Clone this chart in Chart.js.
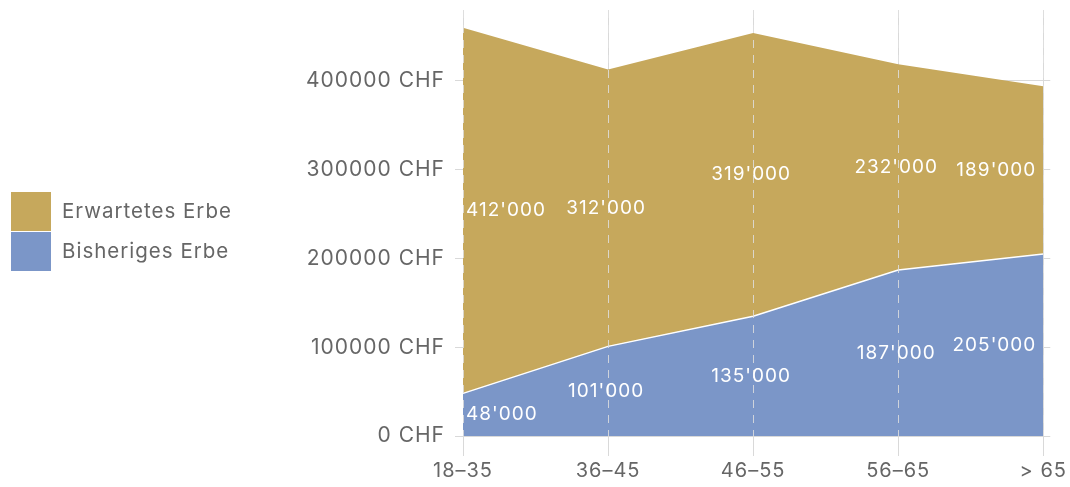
<!DOCTYPE html>
<html>
<head>
<meta charset="utf-8">
<script src="https://cdn.jsdelivr.net/npm/chart.js@4"></script>
<style>
  html, body { margin: 0; padding: 0; background: #fff; }
  #wrap { width: 1070px; height: 487px; }
</style>
</head>
<body>
<div id="wrap"><canvas id="erbeChart"></canvas></div>
<script>
const ageGroups = ["18–35", "36–45", "46–55", "56–65", "> 65"];
const bisherigesErbe = [48000, 101000, 135000, 187000, 205000];
const erwartetesErbe = [412000, 312000, 319000, 232000, 189000];
const yTicks = [0, 100000, 200000, 300000, 400000];

const FONT = "Inter, sans-serif";
const GRID = "#d9d9d9";
const TEXT = "#666666";
const SPACING = "1px";

// thousands with apostrophe, e.g. 48'000
function fmt(v) {
  return String(v).replace(/\B(?=(\d{3})+(?!\d))/g, "'");
}

// the reference text is slightly tracked out
const spacingPlugin = {
  id: "spacing",
  beforeUpdate(chart) { chart.ctx.letterSpacing = SPACING; },
  beforeLayout(chart) { chart.ctx.letterSpacing = SPACING; },
  beforeDraw(chart) { chart.ctx.letterSpacing = SPACING; }
};

// dashed guides over the filled areas + value labels
const overlayPlugin = {
  id: "overlay",
  afterDatasetsDraw(chart) {
    const { ctx, chartArea, scales } = chart;
    ctx.save();
    ctx.strokeStyle = "rgba(222,222,222,0.85)";
    ctx.lineWidth = 1;
    ctx.setLineDash([8, 7]);
    ageGroups.forEach((_, i) => {
      const x = Math.round(scales.x.getPixelForValue(i)) + 0.5;
      ctx.beginPath();
      ctx.moveTo(x, chartArea.top);
      ctx.lineTo(x, chartArea.bottom);
      ctx.stroke();
    });
    ctx.setLineDash([]);

    ctx.fillStyle = "#ffffff";
    ctx.font = "19px " + FONT;
    ctx.textBaseline = "middle";
    const last = ageGroups.length - 1;
    ageGroups.forEach((_, i) => {
      const x = scales.x.getPixelForValue(i);
      const b = bisherigesErbe[i];
      const e = erwartetesErbe[i];
      const spots = [
        [fmt(b), scales.y.getPixelForValue(b / 2)],
        [fmt(e), scales.y.getPixelForValue(b + e / 2)]
      ];
      spots.forEach(([txt, y]) => {
        let tx = x;
        if (i === 0) { ctx.textAlign = "left"; tx = x + 3; }
        else if (i === last) { ctx.textAlign = "right"; tx = x - 7; }
        else { ctx.textAlign = "center"; tx = x - 2; }
        ctx.fillText(txt, tx, y);
      });
    });
    ctx.restore();
  }
};

// legend on the left, top entry = upper band
const legendPlugin = {
  id: "sideLegend",
  afterDraw(chart) {
    const { ctx } = chart;
    const items = chart.data.datasets.slice().reverse();
    ctx.save();
    ctx.font = "20.5px " + FONT;
    ctx.textAlign = "left";
    ctx.textBaseline = "middle";
    items.forEach((ds, i) => {
      const top = 192 + i * 40;
      ctx.fillStyle = ds.backgroundColor;
      ctx.fillRect(11, top, 40, 39);
      ctx.fillStyle = TEXT;
      ctx.fillText(ds.label, 62, top + 20);
    });
    ctx.restore();
  }
};

new Chart(document.getElementById("erbeChart"), {
  type: "line",
  data: {
    labels: ageGroups,
    datasets: [
      {
        label: "Bisheriges Erbe",
        data: bisherigesErbe,
        backgroundColor: "#7b96c8",
        borderColor: "#ffffff",
        borderWidth: 1.5,
        fill: "origin",
        pointRadius: 0,
        tension: 0
      },
      {
        label: "Erwartetes Erbe",
        data: erwartetesErbe,
        backgroundColor: "#c6a85c",
        borderColor: "rgba(0,0,0,0)",
        borderWidth: 0,
        fill: "-1",
        pointRadius: 0,
        tension: 0
      }
    ]
  },
  options: {
    responsive: true,
    maintainAspectRatio: false,
    animation: false,
    layout: { padding: { top: 10, right: 0, bottom: 1, left: 240 } },
    plugins: {
      tooltip: { enabled: false },
      legend: { display: false }
    },
    scales: {
      x: {
        grid: { color: GRID, tickLength: 20, drawOnChartArea: true },
        border: { display: false },
        ticks: { color: TEXT, padding: 3, font: { family: FONT, size: 20 } }
      },
      y: {
        stacked: true,
        min: 0,
        max: 480000,
        afterBuildTicks(scale) { scale.ticks = yTicks.map(v => ({ value: v })); },
        afterFit(scale) { scale.width = 223; scale.paddingTop = 0; scale.paddingBottom = 0; },
        grid: { color: GRID, tickLength: 8 },
        border: { display: false },
        ticks: {
          color: TEXT,
          padding: 10,
          font: { family: FONT, size: 21 },
          callback: v => v + " CHF"
        }
      },
      y2: {
        position: "right",
        min: 0,
        max: 480000,
        afterBuildTicks(scale) { scale.ticks = yTicks.map(v => ({ value: v })); },
        afterFit(scale) { scale.paddingTop = 0; scale.paddingBottom = 0; },
        grid: { color: GRID, tickLength: 7, drawOnChartArea: false },
        border: { display: false },
        ticks: { display: false }
      }
    }
  },
  plugins: [spacingPlugin, overlayPlugin, legendPlugin]
});
</script>
</body>
</html>
